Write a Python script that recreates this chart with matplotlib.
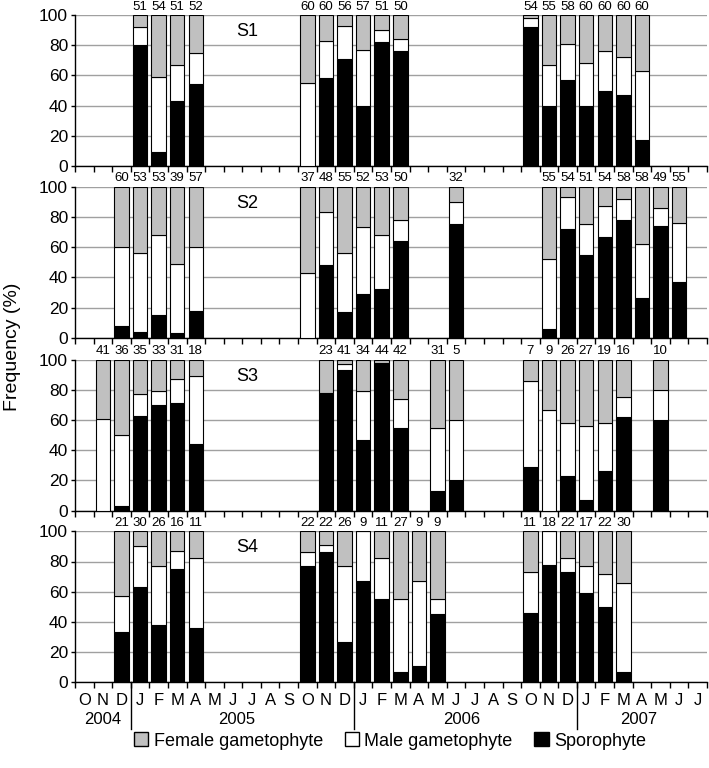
import matplotlib
matplotlib.use("Agg")
import matplotlib.pyplot as plt
from matplotlib.patches import Patch

plt.rcParams['font.family'] = ['Liberation Sans', 'DejaVu Sans']

months = ['O', 'N', 'D',
          'J', 'F', 'M', 'A', 'M', 'J', 'J', 'A', 'S', 'O', 'N', 'D',
          'J', 'F', 'M', 'A', 'M', 'J', 'J', 'A', 'S', 'O', 'N', 'D',
          'J', 'F', 'M', 'A', 'M', 'J', 'J']
years = ['2004', '2005', '2006', '2007']

# site S1
s1_idx = [3, 4, 5, 6, 12, 13, 14, 15, 16, 17, 24, 25, 26, 27, 28, 29, 30]
s1_n = [51, 54, 51, 52, 60, 60, 56, 57, 51, 50, 54, 55, 58, 60, 60, 60, 60]
s1_spor = [80, 9, 43, 54, 0, 58, 71, 40, 82, 76, 92, 40, 57, 40, 50, 47, 17]
s1_male = [12, 50, 24, 21, 55, 25, 22, 37, 8, 8, 6, 27, 24, 28, 26, 25, 46]

# site S2
s2_idx = [2, 3, 4, 5, 6, 12, 13, 14, 15, 16, 17, 20, 25, 26, 27, 28, 29, 30, 31, 32]
s2_n = [60, 53, 53, 39, 57, 37, 48, 55, 52, 53, 50, 32, 55, 54, 51, 54, 58, 58, 49, 55]
s2_spor = [8, 4, 15, 3, 18, 0, 48, 17, 29, 32, 64, 75, 6, 72, 55, 67, 78, 26, 74, 37]
s2_male = [52, 52, 53, 46, 42, 43, 35, 39, 44, 36, 14, 15, 46, 21, 20, 20, 14, 36, 12, 39]

# site S3
s3_idx = [1, 2, 3, 4, 5, 6, 13, 14, 15, 16, 17, 19, 20, 24, 25, 26, 27, 28, 29, 31]
s3_n = [41, 36, 35, 33, 31, 18, 23, 41, 34, 44, 42, 31, 5, 7, 9, 26, 27, 19, 16, 10]
s3_spor = [0, 3, 63, 70, 71, 44, 78, 93, 47, 98, 55, 13, 20, 29, 0, 23, 7, 26, 62, 60]
s3_male = [61, 47, 14, 9, 16, 45, 0, 4, 32, 0, 19, 42, 40, 57, 67, 35, 49, 32, 13, 20]

# site S4
s4_idx = [2, 3, 4, 5, 6, 12, 13, 14, 15, 16, 17, 18, 19, 24, 25, 26, 27, 28, 29]
s4_n = [21, 30, 26, 16, 11, 22, 22, 26, 9, 11, 27, 9, 9, 11, 18, 22, 17, 22, 30]
s4_spor = [33, 63, 38, 75, 36, 77, 86, 27, 67, 55, 7, 11, 45, 46, 78, 73, 59, 50, 7]
s4_male = [24, 27, 39, 12, 46, 9, 5, 50, 33, 27, 48, 56, 10, 27, 22, 9, 18, 22, 59]

sites = [('S1', s1_idx, s1_n, s1_spor, s1_male),
         ('S2', s2_idx, s2_n, s2_spor, s2_male),
         ('S3', s3_idx, s3_n, s3_spor, s3_male),
         ('S4', s4_idx, s4_n, s4_spor, s4_male)]

c_fem = '#c0c0c0'
c_male = 'white'
c_spor = 'black'

fig = plt.figure(figsize=(7.09, 7.68), dpi=100)
left, width, height = 75 / 709, 632 / 709, 151 / 768
bottoms = [1 - 166 / 768, 1 - 337.7 / 768, 1 - 510.7 / 768, 1 - 682.3 / 768]
nm = len(months)
bw = 0.78

axes = []
for (name, idx, n, spor, male), b in zip(sites, bottoms):
    ax = fig.add_axes([left, b, width, height])
    axes.append(ax)
    fem = [100 - s - m for s, m in zip(spor, male)]
    top = [s + m for s, m in zip(spor, male)]
    ax.bar(idx, spor, bw, color=c_spor, edgecolor='black', linewidth=0.8, zorder=3)
    ax.bar(idx, male, bw, bottom=spor, color=c_male, edgecolor='black', linewidth=0.8, zorder=3)
    ax.bar(idx, fem, bw, bottom=top, color=c_fem, edgecolor='black', linewidth=0.8, zorder=3)
    for x, v in zip(idx, n):
        ax.text(x, 101.5, str(v), ha='center', va='bottom', fontsize=9.5, clip_on=False)
    ax.text(8.75, 89, name, ha='center', va='center', fontsize=13)
    ax.set_xlim(-0.5, nm - 0.5)
    ax.set_ylim(0, 100)
    ax.set_yticks(range(0, 101, 20))
    ax.yaxis.grid(True, color='#a0a0a0', linewidth=1)
    ax.set_axisbelow(True)
    ax.set_xticks([i - 0.5 for i in range(nm + 1)])
    ax.set_xticklabels([])
    ax.tick_params(axis='x', direction='out', length=4, width=1, color='black')
    ax.tick_params(axis='y', direction='out', length=3, width=1, labelsize=12.5, pad=2)
    for s in ['top', 'right']:
        ax.spines[s].set_visible(False)
    ax.spines['left'].set_linewidth(1)
    ax.spines['bottom'].set_linewidth(1)

ax = axes[-1]
for i, m in enumerate(months):
    ax.text(i, -7, m, ha='center', va='top', fontsize=12, clip_on=False)
year_pos = [1, 8.2, 20.3, 29.8]
for yp, yl in zip(year_pos, years):
    ax.text(yp, -19.5, yl, ha='center', va='top', fontsize=12, clip_on=False)
for xb in [2.5, 14.5, 26.5]:
    ax.plot([xb, xb], [0, -31], color='black', linewidth=1, clip_on=False)

fig.text(0.018, 0.548, 'Frequency (%)', rotation=90, ha='center', va='center', fontsize=14)

handles = [Patch(facecolor=c_fem, edgecolor='black', label='Female gametophyte'),
           Patch(facecolor=c_male, edgecolor='black', label='Male gametophyte'),
           Patch(facecolor=c_spor, edgecolor='black', label='Sporophyte')]
fig.legend(handles=handles, loc='center', bbox_to_anchor=(0.55, 1 - 741 / 768), ncol=3,
           frameon=False, fontsize=13, handlelength=0.8, handleheight=0.8,
           handletextpad=0.3, columnspacing=1.2)

fig.savefig('out.png', dpi=100)
